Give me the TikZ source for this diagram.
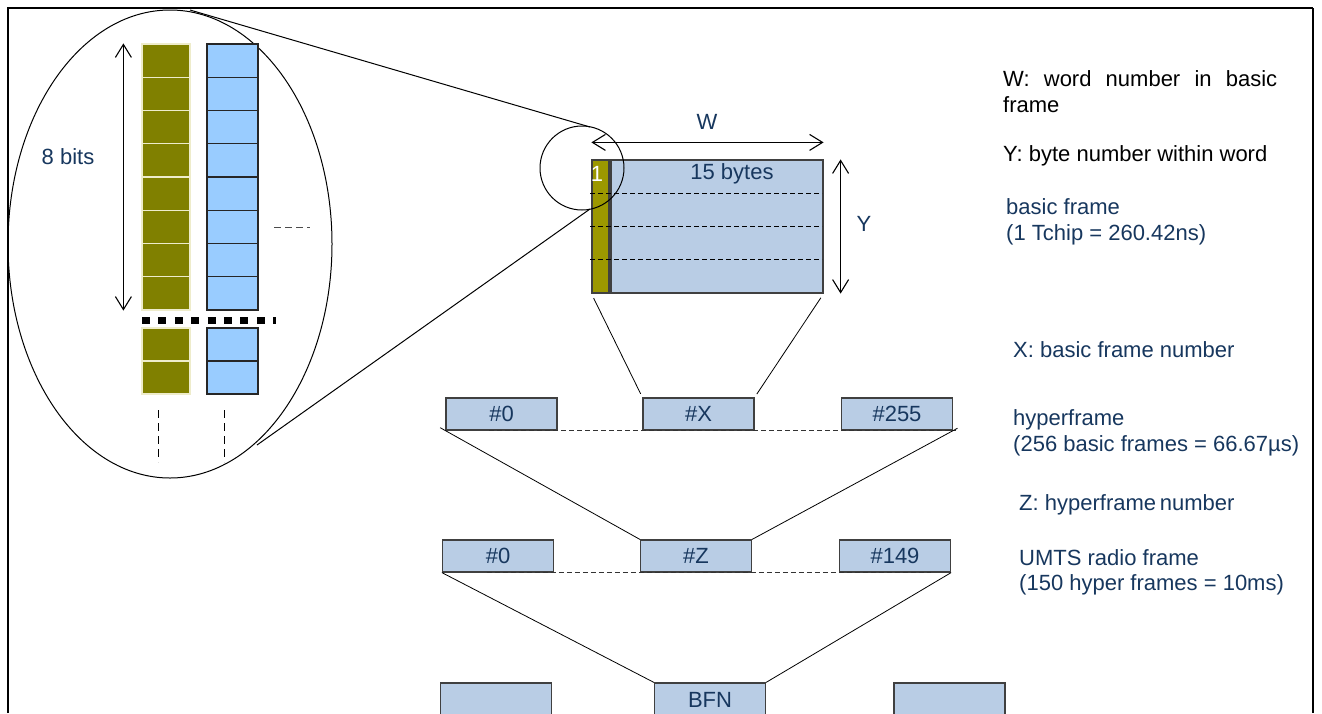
\documentclass[tikz,border=0pt]{standalone}
\usepackage{fontspec}
\setmainfont{Liberation Sans}
\usetikzlibrary{shapes.geometric,arrows.meta}
\definecolor{txtblue}{RGB}{23,55,94}
\definecolor{boxblue}{RGB}{185,205,229}
\definecolor{bitolive}{RGB}{128,128,0}
\definecolor{wordolive}{RGB}{156,152,0}
\definecolor{bitblue}{RGB}{153,204,255}

\begin{document}
\begin{tikzpicture}[x=1pt,y=-1pt,
    every node/.style={font=\fontsize{22}{25.5}\selectfont},
    framebox/.style={draw=black!75,fill=boxblue,line width=1.2pt,minimum width=111pt,minimum height=32pt,inner sep=0pt,text=txtblue},
    olivecell/.style={draw=white!85!olive,fill=bitolive,line width=1.2pt,minimum width=48pt,minimum height=33.25pt,inner sep=0pt},
    bluecell/.style={draw=black!85,fill=bitblue,line width=1.2pt,minimum width=51pt,minimum height=33.25pt,inner sep=0pt},
    dimarrow/.style={line width=1.1pt,{Straight Barb[length=13pt,width=16pt]}-{Straight Barb[length=13pt,width=16pt]}},
    rowdash/.style={line width=0.9pt,dash pattern=on 5pt off 3pt},
    note/.style={anchor=west,inner sep=0pt,text=txtblue}]
    \useasboundingbox (0,0) rectangle (1322,713);
    \clip (0,0) rectangle (1322,713);
    \fill[white] (0,0) rectangle (1322,713);
    \draw[line width=1.2pt] (8,713) -- (8,8) -- (1313,8);
    \draw[line width=1.8pt] (1313,8) -- (1313,713);

    % zoom on the first word
    \node[draw,ellipse,line width=1pt,minimum width=324pt,minimum height=468pt,inner sep=0pt] (zoombig) at (170,244) {};
    \coordinate (tA) at (190,10);
    \coordinate (tB) at (590,127);
    \coordinate (tC) at (257,445);
    \coordinate (tD) at (590,209);
    \draw[line width=1pt] (tA) -- (tB);
    \draw[line width=1pt] (tC) -- (tD);

    % bits
    \foreach \i in {1,...,8} {
        \node[olivecell] (o\i) at (166,{44+33.25*(\i-0.5)}) {};
        \node[bluecell] (b\i) at (232.5,{44+33.25*(\i-0.5)}) {};
    }
    \foreach \i in {9,10} {
        \node[olivecell,minimum height=33pt] (o\i) at (166,{328+33*(\i-9)+16.5}) {};
        \node[bluecell,minimum height=33pt] (b\i) at (232.5,{328+33*(\i-9)+16.5}) {};
    }
    \draw[dimarrow] ([xshift=-18pt]o1.north west) -- ([xshift=-18pt]o8.south west);
    \node[text=txtblue] (bits) at (68,157) {8 bits};
    \draw[line width=7pt,dash pattern=on 8pt off 8.4pt] (142,320) -- (276,320);
    \draw[black!70,line width=1pt,dash pattern=on 7pt off 4pt] (274,227) -- (310,227);
    \draw[line width=1pt,dash pattern=on 8pt off 5pt] (158,410) -- (158,462);
    \draw[line width=1pt,dash pattern=on 8pt off 5pt] (224,410) -- (224,462);

    % basic frame
    \node[draw=black!75,fill=wordolive,line width=1.2pt,minimum width=17pt,minimum height=133pt,inner sep=0pt] (ob) at (600.5,226.5) {};
    \node[draw=black!75,fill=boxblue,line width=1.2pt,minimum width=212pt,minimum height=133pt,inner sep=0pt] (bf) at (717,226.5) {};
    \node[text=white,inner sep=0pt] (one) at (597,174) {1};
    \node[text=txtblue,inner sep=0pt] (bytes) at (732,174) {15 bytes};
    \foreach \k in {1,2,3}
        \draw[rowdash] (590,{160+33.25*\k}) -- (822,{160+33.25*\k});
    \node[draw,circle,line width=1pt,minimum size=84pt,inner sep=0pt] (zoomsmall) at (582,168) {};
    \draw[dimarrow] ([yshift=17pt]ob.north west) -- ([yshift=17pt]bf.north east);
    \draw[dimarrow] ([xshift=17pt]bf.north east) -- ([xshift=17pt]bf.south east);
    \node[text=txtblue] (wlab) at (707,122) {W};
    \node[text=txtblue] (ylab) at (864,224) {Y};

    % hyperframe
    \node[framebox] (h0) at (501.5,414) {\#0};
    \node[framebox] (hx) at (698.5,414) {\#X};
    \node[framebox] (h255) at (897,414) {\#255};
    \draw[rowdash,black!80] ([xshift=44pt]h0.south west) -- ([xshift=3pt]h255.south east);
    \draw[line width=0.8pt,shorten <=5pt,shorten >=4pt] (ob.south west) -- (hx.north west);
    \draw[line width=0.8pt,shorten <=5pt,shorten >=4pt] (bf.south east) -- (hx.north east);

    % UMTS radio frame
    \node[framebox] (u0) at (498,556) {\#0};
    \node[framebox] (uz) at (696,556) {\#Z};
    \node[framebox] (u149) at (895,556) {\#149};
    \draw[rowdash,black!80] ([xshift=45pt]u0.south west) -- ([xshift=-20pt]u149.south east);
    \draw[line width=0.8pt,shorten <=-6pt] (h0.south west) -- (uz.north west);
    \draw[line width=0.8pt,shorten <=-5pt] (h255.south east) -- (uz.north east);

    % BFN
    \node[framebox,minimum height=34pt] (bl) at (496,700) {};
    \node[framebox,minimum height=34pt] (bfn) at (710,700) {BFN};
    \node[framebox,minimum height=34pt] (br) at (949.5,700) {};
    \draw[line width=0.8pt] (u0.south west) -- (bfn.north west);
    \draw[line width=0.8pt] (u149.south east) -- (bfn.north east);

    % legend
    \node[note,text=black,align=left] (wnote) at (1003,91.5) {\makebox[274pt][s]{W: word number in basic}\\frame};
    \node[note,text=black] (ynote) at (1003,156) {Y: byte number within word};
    \node[note,align=left] (bfnote) at (1006,222) {basic frame\\(1 Tchip = 260.42ns)};
    \node[note] (xnote) at (1013,350) {X: basic frame number};
    \node[note,align=left] (hfnote) at (1013,433) {hyperframe\\(256 basic frames = 66.67µs)};
    \node[note] (znote) at (1019,505) {Z: hyperframe\,number};
    \node[note,align=left] (rfnote) at (1019,572.5) {UMTS radio frame\\(150 hyper frames = 10ms)};
\end{tikzpicture}
\end{document}
